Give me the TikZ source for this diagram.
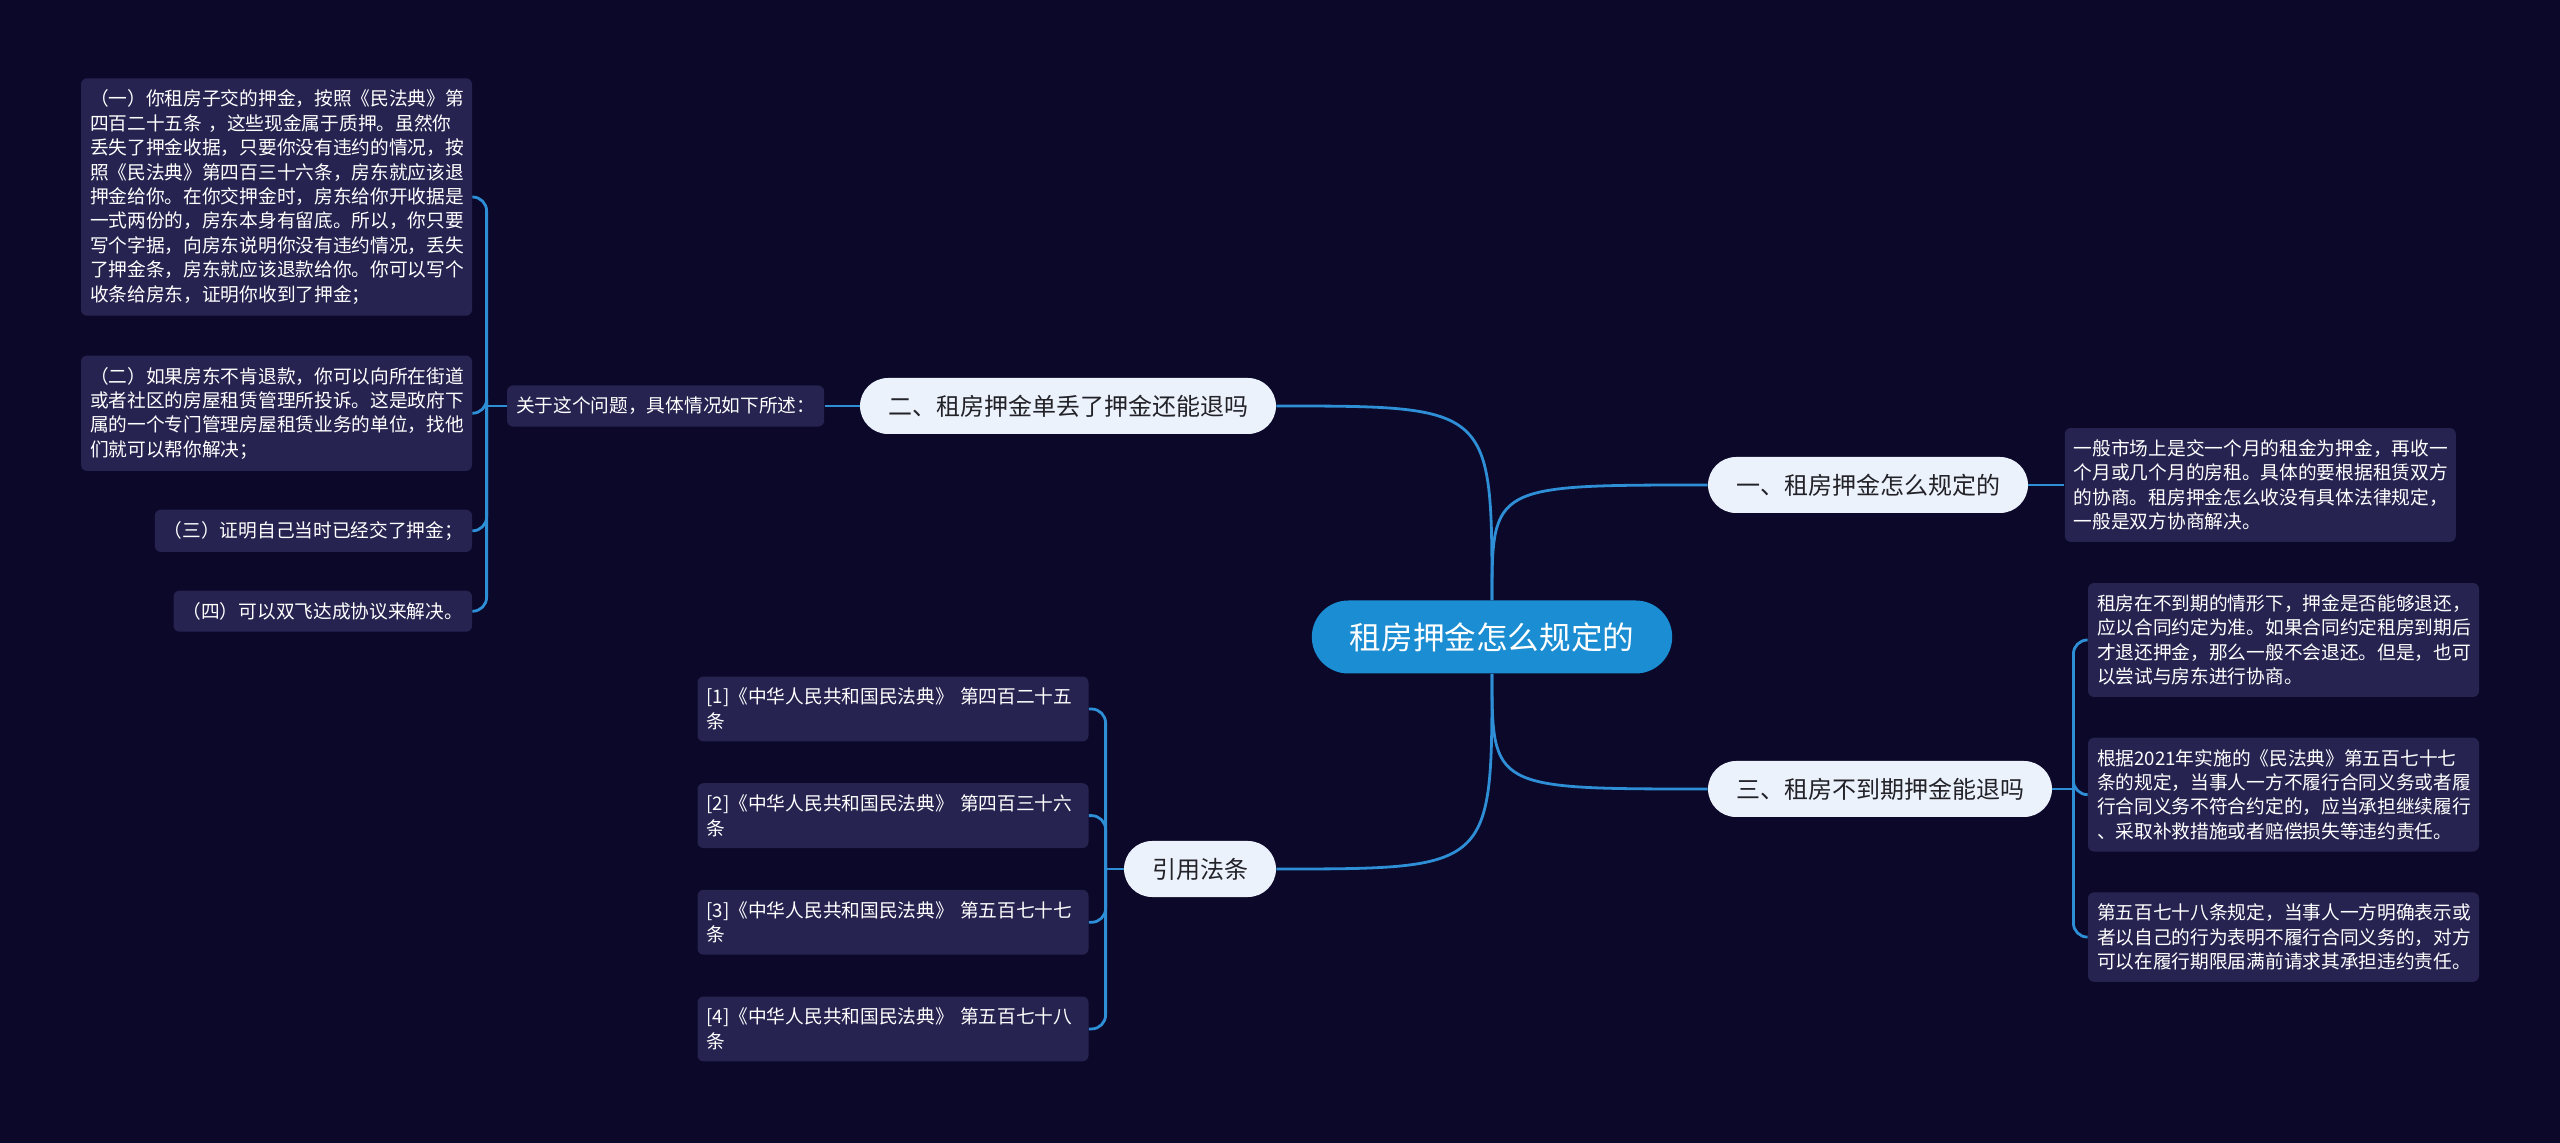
\documentclass[tikz,border=0pt]{standalone}
\usepackage{fontspec}
\setmainfont{Noto Sans CJK SC}
\usepackage{xcolor}
\usetikzlibrary{positioning}

\definecolor{bgnavy}{RGB}{11,8,41}
\definecolor{leaffill}{RGB}{38,35,80}
\definecolor{pillfill}{RGB}{236,242,251}
\definecolor{rootblue}{RGB}{27,141,210}
\definecolor{linkblue}{RGB}{46,142,214}
\definecolor{pilltext}{RGB}{34,34,40}

\begin{document}
\begin{tikzpicture}[
    x=0.5pt, y=-0.5pt,
    node distance=20.5pt,
    root/.style={fill=rootblue, text=white, rounded corners=18.25pt, minimum height=36.5pt,
                 inner xsep=19pt, font=\fontsize{15.8pt}{18pt}\selectfont},
    topic/.style={fill=pillfill, text=pilltext, rounded corners=14pt, minimum height=28pt,
                  inner xsep=14pt, font=\fontsize{12pt}{14pt}\selectfont},
    leaf/.style={fill=leaffill, text=white, rounded corners=3pt, align=left,
                 inner xsep=4.5pt, inner ysep=5.8pt, font=\fontsize{9.35pt}{12.2pt}\selectfont},
    wide/.style={leaf, text width=186.5pt},
    link/.style={draw=linkblue, line width=1.4pt},
    fork/.style={link, rounded corners=7pt}
]

\fill[bgnavy] (0,0) rectangle (2560,1143);
\useasboundingbox (0,0) rectangle (2560,1143);

% centre and main topics
\node[root]  (root)  at (1492,637) {租房押金怎么规定的};
\node[topic] (rule)  at (1868,485) {一、租房押金怎么规定的};
\node[topic] (lost)  at (1068,406) {二、租房押金单丢了押金还能退吗};
\node[topic] (early) at (1880,789) {三、租房不到期押金能退吗};
\node[topic] (cite)  at (1200,869) {引用法条};

% topic one
\node[wide, right=18pt of rule] (rule1) {一般市场上是交一个月的租金为押金，再收一\\个月或几个月的房租。具体的要根据租赁双方\\的协商。租房押金怎么收没有具体法律规定，\\一般是双方协商解决。};

% topic two
\node[leaf, left=17.5pt of lost] (about) {关于这个问题，具体情况如下所述：};
\node[wide] (lost1) at (276.5,197) {（一）你租房子交的押金，按照《民法典》第\\四百二十五条 ，这些现金属于质押。虽然你\\丢失了押金收据，只要你没有违约的情况，按\\照《民法典》第四百三十六条，房东就应该退\\押金给你。在你交押金时，房东给你开收据是\\一式两份的，房东本身有留底。所以，你只要\\写个字据，向房东说明你没有违约情况，丢失\\了押金条，房东就应该退款给你。你可以写个\\收条给房东，证明你收到了押金；};
\node[wide, below=19.5pt of lost1] (lost2) {（二）如果房东不肯退款，你可以向所在街道\\或者社区的房屋租赁管理所投诉。这是政府下\\属的一个专门管理房屋租赁业务的单位，找他\\们就可以帮你解决；};
\node[leaf, below=19pt of lost2.south east, anchor=north east] (lost3) {（三）证明自己当时已经交了押金；};
\node[leaf, below=19pt of lost3.south east, anchor=north east] (lost4) {（四）可以双飞达成协议来解决。};

% topic three
\node[wide] (early1) at (2283.5,640) {租房在不到期的情形下，押金是否能够退还，\\应以合同约定为准。如果合同约定租房到期后\\才退还押金，那么一般不会退还。但是，也可\\以尝试与房东进行协商。};
\node[wide, below=20pt of early1] (early2) {根据2021年实施的《民法典》第五百七十七\\条的规定，当事人一方不履行合同义务或者履\\行合同义务不符合约定的，应当承担继续履行\\、采取补救措施或者赔偿损失等违约责任。};
\node[wide, below=20pt of early2] (early3) {第五百七十八条规定，当事人一方明确表示或\\者以自己的行为表明不履行合同义务的，对方\\可以在履行期限届满前请求其承担违约责任。};

% citations
\node[wide] (cite1) at (893,709) {[1]《中华人民共和国民法典》~第四百二十五\\条};
\node[wide, below=of cite1] (cite2) {[2]《中华人民共和国民法典》~第四百三十六\\条};
\node[wide, below=of cite2] (cite3) {[3]《中华人民共和国民法典》~第五百七十七\\条};
\node[wide, below=of cite3] (cite4) {[4]《中华人民共和国民法典》~第五百七十八\\条};

% connectors
\draw[link] (root.north) .. controls (root.north |- rule.west) .. (rule.west);
\draw[link] (root.north) .. controls (root.north |- lost.east) .. (lost.east);
\draw[link] (root.south) .. controls (root.south |- early.west) .. (early.west);
\draw[link] (root.south) .. controls (root.south |- cite.east) .. (cite.east);

\draw[link] (rule.east) -- (rule1.west);
\draw[link] (lost.west) -- (about.east);

\coordinate[left=10pt of about.west] (aboutfork);
\coordinate[right=10.5pt of early.east] (earlyfork);
\coordinate[left=9pt of cite.west] (citefork);

\draw[link] (about.west) -- (aboutfork);
\draw[link] (early.east) -- (earlyfork);
\draw[link] (cite.west) -- (citefork);
\foreach \n in {1,...,4}
  \draw[fork] (aboutfork) |- (lost\n.east);
\foreach \n in {1,...,3}
  \draw[fork] (earlyfork) |- (early\n.west);
\foreach \n in {1,...,4}
  \draw[fork] (citefork) |- (cite\n.east);
\end{tikzpicture}
\end{document}
